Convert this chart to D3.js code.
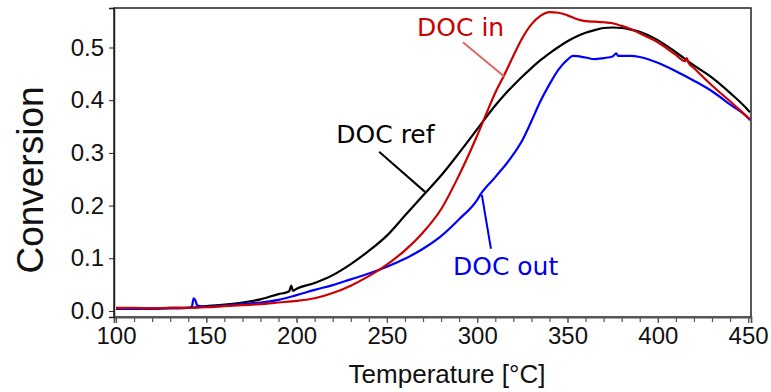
<!DOCTYPE html>
<html>
<head>
<meta charset="utf-8">
<script src="https://cdn.jsdelivr.net/npm/d3@7"></script>
<style>
  body { margin: 0; background: #fff; }
  svg { display: block; }
  .tick text { font-family: "Liberation Sans", Arial, sans-serif; font-size: 24px; fill: #111; }
  .note { font-family: "DejaVu Sans", Verdana, sans-serif; font-size: 25px; }
</style>
</head>
<body>
<div id="chart"></div>
<script>
// DOC ref (black)
const tempsRef = [100, 110, 120, 130, 140, 150, 160, 170, 180, 190, 195, 196, 197, 198, 200, 210, 220, 230, 240, 250, 260, 270, 280, 290, 300, 305, 310, 315, 320, 325, 330, 335, 340, 345, 350, 355, 360, 365, 370, 375, 380, 385, 390, 400, 410, 420, 430, 440, 450, 451];
const convRef = [0.004, 0.005, 0.004, 0.006, 0.006, 0.009, 0.012, 0.016, 0.022, 0.032, 0.036, 0.038, 0.048, 0.038, 0.042, 0.053, 0.068, 0.089, 0.114, 0.143, 0.181, 0.219, 0.257, 0.300, 0.345, 0.368, 0.390, 0.410, 0.428, 0.445, 0.461, 0.476, 0.489, 0.501, 0.512, 0.521, 0.528, 0.533, 0.537, 0.538, 0.537, 0.534, 0.530, 0.514, 0.491, 0.466, 0.443, 0.414, 0.381, 0.377];

// DOC in (red)
const tempsIn = [100, 110, 120, 130, 140, 150, 160, 170, 180, 190, 200, 210, 220, 230, 240, 250, 260, 270, 280, 290, 300, 305, 310, 315, 320, 325, 330, 335, 340, 345, 350, 355, 360, 365, 370, 375, 380, 385, 390, 400, 410, 415, 416, 417, 420, 430, 440, 450, 451];
const convIn = [0.006, 0.006, 0.005, 0.006, 0.006, 0.007, 0.009, 0.011, 0.013, 0.016, 0.019, 0.024, 0.034, 0.048, 0.066, 0.088, 0.115, 0.149, 0.193, 0.258, 0.333, 0.374, 0.414, 0.448, 0.484, 0.518, 0.544, 0.560, 0.567, 0.566, 0.561, 0.554, 0.550, 0.549, 0.548, 0.546, 0.541, 0.535, 0.527, 0.510, 0.486, 0.474, 0.480, 0.471, 0.461, 0.428, 0.398, 0.367, 0.364];

// DOC out (blue)
const tempsOut = [100, 110, 120, 130, 140, 142, 143, 144, 145, 150, 160, 170, 180, 190, 200, 210, 220, 230, 240, 250, 260, 270, 280, 290, 300, 302, 310, 320, 325, 330, 335, 340, 345, 350, 353, 360, 365, 370, 375, 377, 378, 380, 385, 390, 400, 410, 420, 430, 440, 450, 451];
const convOut = [0.005, 0.004, 0.005, 0.005, 0.006, 0.008, 0.024, 0.020, 0.010, 0.008, 0.010, 0.013, 0.016, 0.021, 0.030, 0.040, 0.049, 0.060, 0.071, 0.084, 0.099, 0.118, 0.142, 0.174, 0.211, 0.222, 0.254, 0.297, 0.324, 0.360, 0.398, 0.430, 0.458, 0.477, 0.484, 0.481, 0.478, 0.480, 0.483, 0.489, 0.484, 0.484, 0.484, 0.482, 0.471, 0.455, 0.437, 0.417, 0.392, 0.366, 0.362];

const xTicks = [100, 150, 200, 250, 300, 350, 400, 450];
const yTicks = [0.0, 0.1, 0.2, 0.3, 0.4, 0.5];

// labels with leader lines, in data units
const notes = [
    { text: 'DOC in', color: '#cc0000', lineColor: '#e06666', t: 266.7, c: 0.522, from: [292.1, 0.510], to: [315.3, 0.444] },
    { text: 'DOC ref', color: '#000', lineColor: '#000', t: 222, c: 0.318, from: [245.7, 0.302], to: [271.1, 0.226] },
    { text: 'DOC out', color: '#0000ee', lineColor: '#0000ee', t: 286.6, c: 0.068, from: [302.6, 0.220], to: [307.6, 0.118] }
];

const width = 771, height = 392;
const margin = { top: 8, right: 20, bottom: 75, left: 114 };

const x = d3.scaleLinear().domain([98.9, 451.6]).range([margin.left, width - margin.right]);
const y = d3.scaleLinear().domain([-0.0115, 0.575]).range([height - margin.bottom, margin.top]);

const svg = d3.select('#chart').append('svg')
    .attr('width', width)
    .attr('height', height);

// frame
svg.append('rect')
    .attr('x', margin.left)
    .attr('y', margin.top)
    .attr('width', width - margin.right - margin.left)
    .attr('height', height - margin.bottom - margin.top)
    .attr('fill', 'none')
    .attr('stroke', '#222')
    .attr('stroke-width', 1.5);

// minor x ticks
svg.append('g')
    .attr('transform', `translate(0, ${height - margin.bottom})`)
    .call(d3.axisBottom(x).tickValues(d3.range(100, 451, 10)).tickSize(5).tickFormat(''))
    .call(g => g.select('.domain').remove())
    .call(g => g.selectAll('line').attr('stroke', '#555').attr('stroke-width', 1.2));

const axisX = svg.append('g')
    .attr('transform', `translate(0, ${height - margin.bottom})`)
    .call(d3.axisBottom(x).tickValues(xTicks).tickSize(6).tickPadding(4).tickFormat(d3.format('d')));
axisX.select('.domain').attr('stroke', '#555').attr('stroke-width', 1.8);
axisX.selectAll('line').attr('stroke', '#555').attr('stroke-width', 1.2);

const axisY = svg.append('g')
    .attr('transform', `translate(${margin.left}, 0)`)
    .call(d3.axisLeft(y).tickValues(yTicks).tickSize(5).tickPadding(5).tickFormat(d3.format('.1f')));
axisY.select('.domain').attr('stroke', '#222').attr('stroke-width', 1.5);
axisY.selectAll('line').attr('stroke', '#222');

const line = d3.line()
    .x(d => x(d[0]))
    .y(d => y(d[1]))
    .curve(d3.curveMonotoneX);

const series = [
    { temps: tempsRef, conv: convRef, color: '#000' },
    { temps: tempsOut, conv: convOut, color: '#0000ff' },
    { temps: tempsIn, conv: convIn, color: '#cc0000' }
];

series.forEach(s => {
    svg.append('path')
        .datum(s.temps.map((t, i) => [t, s.conv[i]]))
        .attr('fill', 'none')
        .attr('stroke', s.color)
        .attr('stroke-width', 2.2)
        .attr('stroke-linejoin', 'round')
        .attr('d', line);
});

notes.forEach(n => {
    svg.append('line')
        .attr('x1', x(n.from[0])).attr('y1', y(n.from[1]))
        .attr('x2', x(n.to[0])).attr('y2', y(n.to[1]))
        .attr('stroke', n.lineColor)
        .attr('stroke-width', 2);
    svg.append('text')
        .attr('class', 'note')
        .attr('x', x(n.t))
        .attr('y', y(n.c))
        .attr('fill', n.color)
        .text(n.text);
});

svg.append('text')
    .attr('x', 447)
    .attr('y', 383)
    .attr('text-anchor', 'middle')
    .style('font-family', '"Liberation Sans", Arial, sans-serif')
    .style('font-size', '26px')
    .attr('fill', '#111')
    .text('Temperature [°C]');

svg.append('text')
    .attr('transform', 'translate(43, 180) rotate(-90)')
    .attr('text-anchor', 'middle')
    .style('font-family', '"Liberation Sans", Arial, sans-serif')
    .style('font-size', '37px')
    .attr('fill', '#111')
    .text('Conversion');
</script>
</body>
</html>
